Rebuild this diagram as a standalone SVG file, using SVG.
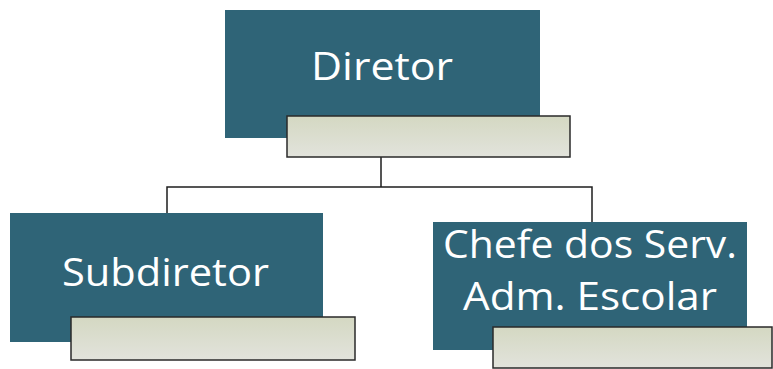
<svg xmlns="http://www.w3.org/2000/svg" width="773" height="369" viewBox="0 0 773 369">
<defs>
<style>
.box{fill:#2f6477;}
.lbl{fill:#d9dccc;stroke:#2a2a2a;stroke-width:1.5;}
.t{font-family:"Open Sans","Liberation Sans",sans-serif;font-size:38px;fill:#ffffff;}
.con{fill:none;stroke:#1e1e1e;stroke-width:1.5;}
</style>
<linearGradient id="g" x1="0" y1="0" x2="0" y2="1">
<stop offset="0" stop-color="#d4d8c2"/>
<stop offset="1" stop-color="#e2e3dc"/>
</linearGradient>
</defs>
<rect width="773" height="369" fill="#ffffff"/>
<g id="connectors">
<path class="con" d="M381,157 V187 M167,213 V187 H592 V222"/>
</g>
<g id="diretor">
<rect class="box" x="225" y="10" width="315" height="128"/>
<text class="t" x="382" y="80" text-anchor="middle" textLength="142" lengthAdjust="spacingAndGlyphs">Diretor</text>
<rect class="lbl" x="287" y="116" width="283" height="41" fill="url(#g)" style="fill:url(#g)"/>
</g>
<g id="subdiretor">
<rect class="box" x="10" y="213" width="313" height="129"/>
<text class="t" x="62" y="286" textLength="207" lengthAdjust="spacingAndGlyphs">Subdiretor</text>
<rect class="lbl" x="71" y="317" width="284" height="43" style="fill:url(#g)"/>
</g>
<g id="chefe">
<rect class="box" x="433" y="222" width="314" height="128"/>
<text class="t" x="443" y="258" textLength="294" lengthAdjust="spacingAndGlyphs">Chefe dos Serv.</text>
<text class="t" x="463" y="310" textLength="254" lengthAdjust="spacingAndGlyphs">Adm. Escolar</text>
<rect class="lbl" x="493" y="327" width="279" height="41" style="fill:url(#g)"/>
</g>
</svg>
